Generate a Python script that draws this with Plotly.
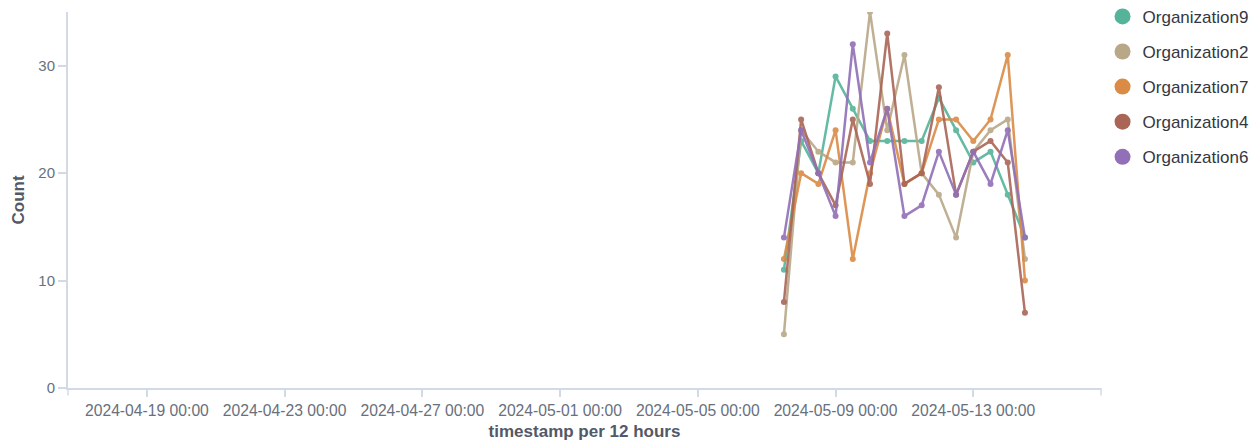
import plotly.graph_objects as go

timestamps = [
    "2024-05-07 12:00", "2024-05-08 00:00", "2024-05-08 12:00", "2024-05-09 00:00",
    "2024-05-09 12:00", "2024-05-10 00:00", "2024-05-10 12:00", "2024-05-11 00:00",
    "2024-05-11 12:00", "2024-05-12 00:00", "2024-05-12 12:00", "2024-05-13 00:00",
    "2024-05-13 12:00", "2024-05-14 00:00", "2024-05-14 12:00",
]

org9 = [11, 23, 20, 29, 26, 23, 23, 23, 23, 27, 24, 21, 22, 18, 14]
org2 = [5, 24, 22, 21, 21, 35, 24, 31, 20, 18, 14, 22, 24, 25, 12]
org7 = [12, 20, 19, 24, 12, 20, 26, 19, 20, 25, 25, 23, 25, 31, 10]
org4 = [8, 25, 20, 17, 25, 19, 33, 19, 20, 28, 18, 22, 23, 21, 7]
org6 = [14, 24, 20, 16, 32, 21, 26, 16, 17, 22, 18, 22, 19, 24, 14]

series_names = ["Organization9", "Organization2", "Organization7", "Organization4", "Organization6"]
series_values = [org9, org2, org7, org4, org6]
series_colors = ["#54B399", "#B9A888", "#DA8B45", "#AA6556", "#9170B8"]

y_ticks = [0, 10, 20, 30]

FONT = "Liberation Sans, Arial, sans-serif"
TICK_COLOR = "#69707D"
AXIS_COLOR = "#D3DAE6"

fig = go.Figure()

for name, vals, col in zip(series_names, series_values, series_colors):
    fig.add_trace(go.Scatter(
        x=timestamps, y=vals, mode="lines+markers", name=name,
        line=dict(color=col, width=2.5), marker=dict(color=col, size=6),
        opacity=0.9, showlegend=False, legendgroup=name,
    ))

for name, col in zip(series_names, series_colors):
    fig.add_trace(go.Scatter(
        x=[None], y=[None], mode="markers", name=name,
        marker=dict(color=col, size=16), showlegend=True, legendgroup=name,
    ))

fig.update_layout(
    width=1254, height=444,
    margin=dict(l=68, r=153, t=12, b=56, autoexpand=False),
    paper_bgcolor="white", plot_bgcolor="white",
    font=dict(family=FONT, color=TICK_COLOR),
    showlegend=True,
    legend=dict(
        x=1.0015, y=1.035, xanchor="left", yanchor="top",
        font=dict(size=17, color="#343741", family=FONT),
        tracegroupgap=10, itemwidth=30, bgcolor="rgba(0,0,0,0)",
    ),
    xaxis=dict(
        type="date", automargin=False,
        range=["2024-04-16 17:00", "2024-05-16 17:00"],
        tick0="2024-04-19", dtick=4 * 86400000,
        tickformat="%Y-%m-%d %H:%M",
        showgrid=False, zeroline=False,
        showline=True, linecolor=AXIS_COLOR, linewidth=2,
        ticks="outside", ticklen=7, tickwidth=1.5, tickcolor=AXIS_COLOR,
        tickfont=dict(size=15.7, color=TICK_COLOR),
        title=dict(text="<b>timestamp per 12 hours</b>", font=dict(size=17, color="#535966"), standoff=7),
    ),
    yaxis=dict(
        range=[0, 35], tickvals=y_ticks, automargin=False,
        showgrid=False, zeroline=False,
        showline=True, linecolor=AXIS_COLOR, linewidth=2,
        ticks="outside", ticklen=8, tickwidth=1.5, tickcolor=AXIS_COLOR,
        tickfont=dict(size=15, color=TICK_COLOR),
        title=dict(text="<b>Count</b>", font=dict(size=17, color="#535966"), standoff=9),
    ),
)

# domain end ticks (axis decoration)
fig.add_shape(type="line", xref="paper", yref="paper", x0=0, x1=0, y0=0, y1=-0.02,
              line=dict(color=AXIS_COLOR, width=1.5))
fig.add_shape(type="line", xref="paper", yref="paper", x0=1, x1=1, y0=0, y1=-0.02,
              line=dict(color=AXIS_COLOR, width=1.5))

fig.write_html("out.html", config={"displayModeBar": False},
               post_script="document.body.style.margin='0';")
